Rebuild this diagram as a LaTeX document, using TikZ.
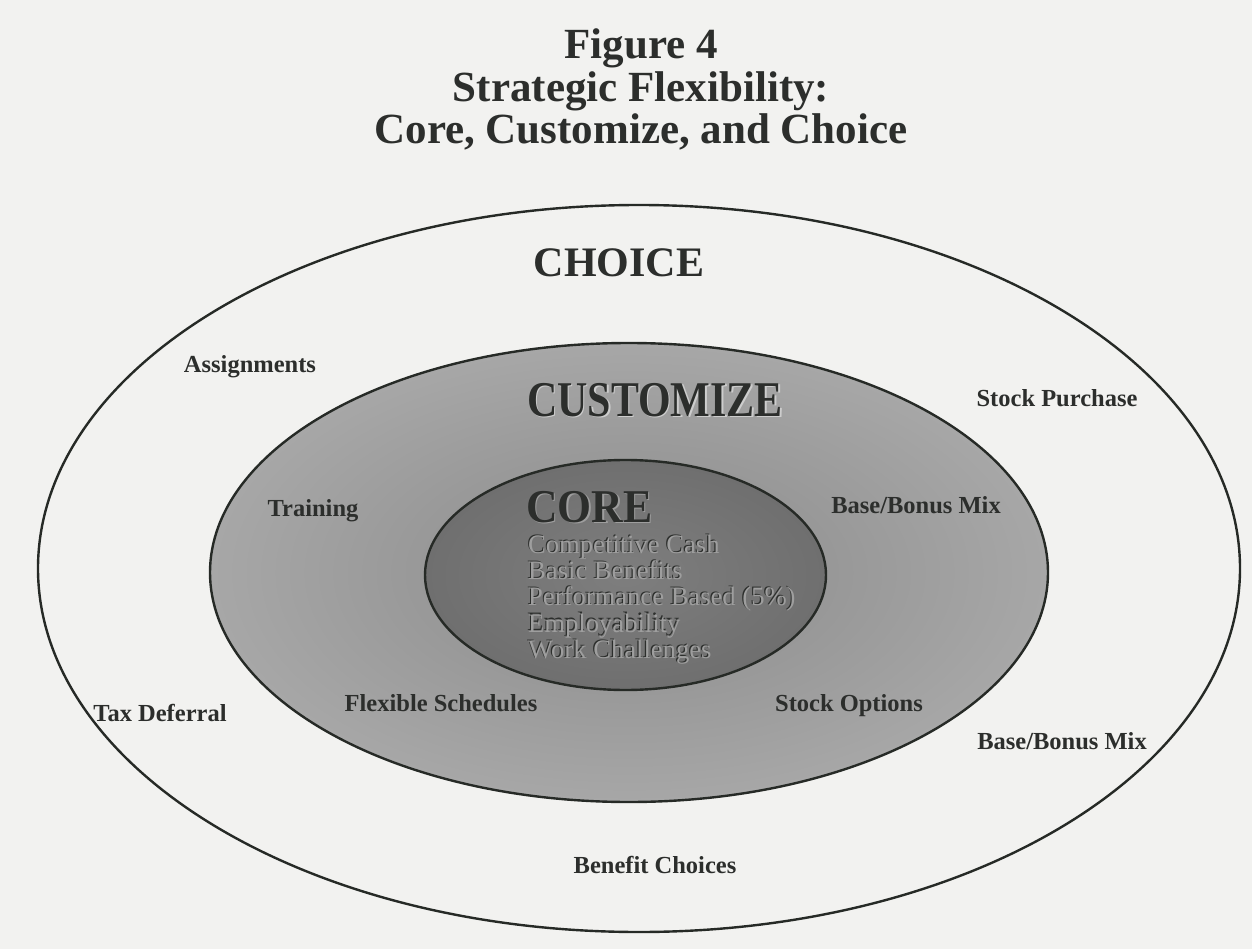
\documentclass[tikz,border=0pt]{standalone}
\usepackage{fontspec}
\setmainfont{Liberation Serif}
\newfontfamily\narrowserif[FakeStretch=0.84]{Liberation Serif}
\newfontfamily\slimserif[FakeStretch=0.93]{Liberation Serif}
\usetikzlibrary{shapes.geometric}

\definecolor{paper}{RGB}{242,242,240}
\definecolor{ink}{RGB}{44,46,44}
\definecolor{rim}{RGB}{38,42,38}
\definecolor{custin}{RGB}{138,138,138}
\definecolor{custout}{RGB}{196,196,196}
\definecolor{corein}{RGB}{126,126,126}
\definecolor{coreout}{RGB}{96,96,96}
\definecolor{glint}{RGB}{205,205,205}
\definecolor{pale}{RGB}{158,158,158}

% soft radial fills for the two inner rings
\pgfdeclareradialshading{custshade}{\pgfpoint{0bp}{0bp}}{color(0bp)=(custin); color(50bp)=(custout)}
\pgfdeclareradialshading{coreshade}{\pgfpoint{0bp}{0bp}}{color(0bp)=(corein); color(50bp)=(coreout)}

\tikzset{
  ring/.style={ellipse, draw=rim, line width=2.4pt, inner sep=0pt},
  lbl/.style={font=\bfseries\fontsize{24.5}{28}\selectfont, text=ink, inner sep=0pt},
  heading/.style={font=\bfseries\fontsize{43}{42.5}\selectfont, text=ink, align=center, inner sep=0pt},
  ringname/.style={inner sep=0pt},
}

\begin{document}
\begin{tikzpicture}[x=1pt,y=-1pt]
  % page
  \fill[paper] (0,0) rectangle (1252,949);
  \useasboundingbox (0,0) rectangle (1252,949);

  % title
  \node[heading] (title) at (641,89.5)
    {Figure 4\\Strategic Flexibility:\\Core, Customize, and Choice};

  % nested rings
  \node[ring, fill=paper, minimum width=1202pt, minimum height=727pt] (choice) at (639,568.5) {};
  \node[ring, shade, shading=custshade, minimum width=838pt, minimum height=459pt] (customize) at (629,572.5) {};
  \node[ring, shade, shading=coreshade, minimum width=401pt, minimum height=230pt] (core) at (625.5,575) {};

  % ring names
  \node[ringname, text=ink, font=\bfseries\fontsize{42}{46}\selectfont] (choicename) at (619,263) {CHOICE};
  \node[ringname, text=glint, font=\narrowserif\bfseries\fontsize{50}{54}\selectfont] (customizeglow) at (656.5,401.5) {CUSTOMIZE};
  \node[ringname, text=ink, font=\narrowserif\bfseries\fontsize{50}{54}\selectfont] (customizename) at (655,400) {CUSTOMIZE};
  \node[ringname, anchor=west, text=pale, font=\slimserif\bfseries\fontsize{47}{50}\selectfont] (coreglow) at (527.5,508.5) {CORE};
  \node[ringname, anchor=west, text=ink, font=\slimserif\bfseries\fontsize{47}{50}\selectfont] (corename) at (526,507) {CORE};

  % core contents
  \node[ringname, anchor=west, align=left, text=ink, font=\fontsize{26.6}{26.25}\selectfont] (coreshadow) at (526.8,598.2)
    {Competitive Cash\\Basic Benefits\\Performance Based (5\%)\\Employability\\Work Challenges};
  \node[ringname, anchor=west, align=left, text=pale, font=\fontsize{26.6}{26.25}\selectfont] (corelist) at (528,599.5)
    {Competitive Cash\\Basic Benefits\\Performance Based (5\%)\\Employability\\Work Challenges};

  % customize ring items
  \node[lbl] (training) at (313,511) {Training};
  \node[lbl] (innermix) at (916,505) {Base/Bonus Mix};
  \node[lbl] (flexsched) at (441,703) {Flexible Schedules};
  \node[lbl] (stockopt) at (849,706) {Stock Options};

  % choice ring items
  \node[lbl] (assign) at (250,367) {Assignments};
  \node[lbl] (stockbuy) at (1057,398) {Stock Purchase};
  \node[lbl] (taxdefer) at (160,713) {Tax Deferral};
  \node[lbl] (outermix) at (1062,741) {Base/Bonus Mix};
  \node[lbl] (benefits) at (655,865) {Benefit Choices};
\end{tikzpicture}
\end{document}
